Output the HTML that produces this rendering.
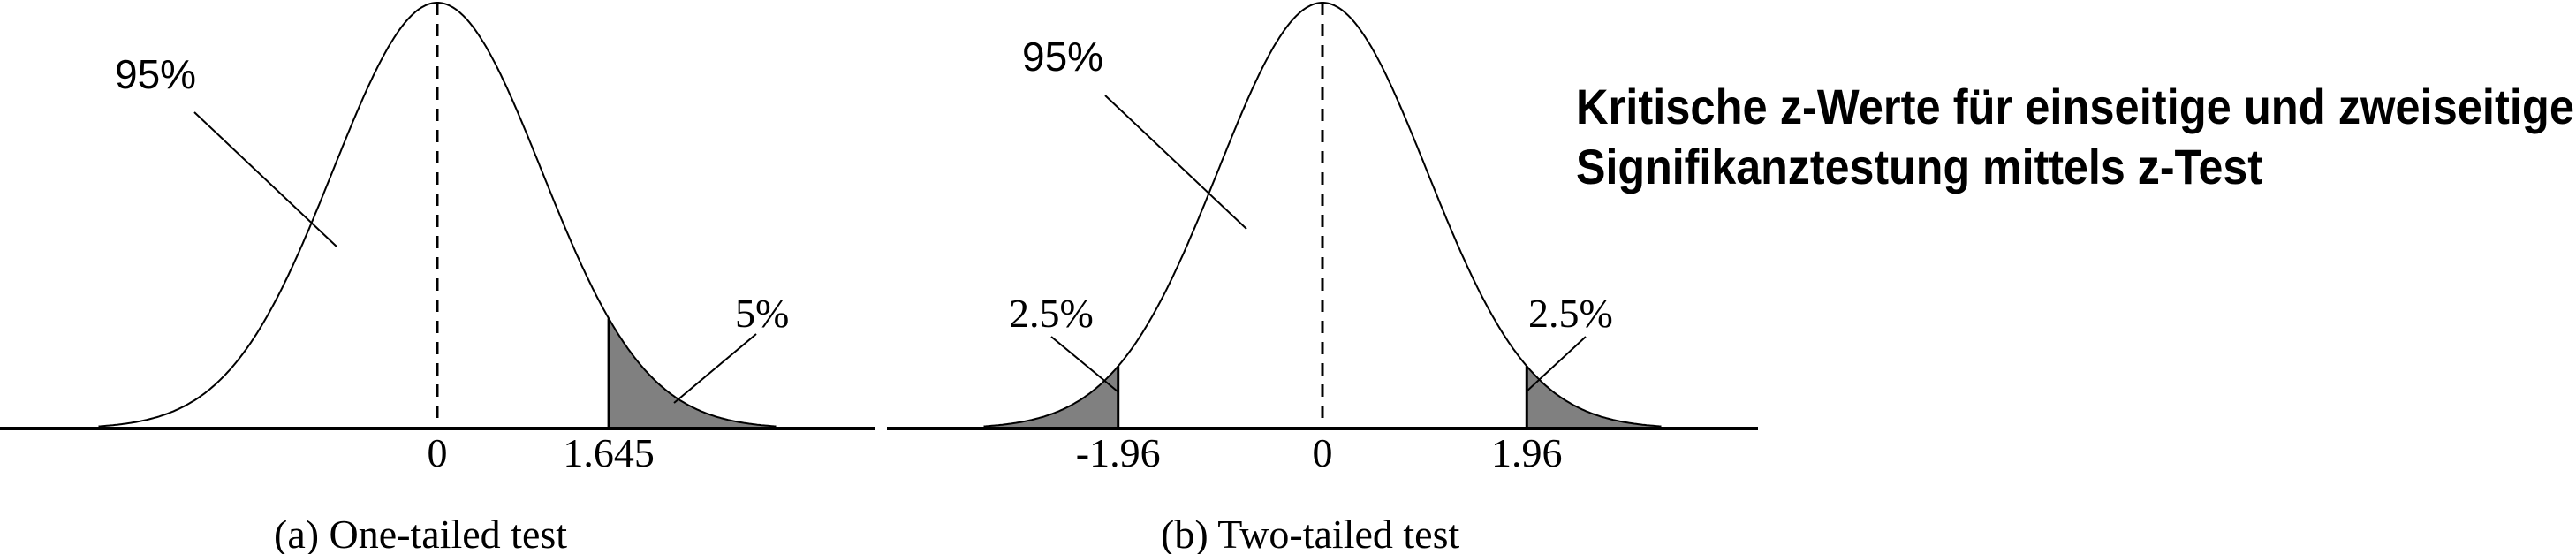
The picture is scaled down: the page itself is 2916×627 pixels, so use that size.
<!DOCTYPE html>
<html><head><meta charset="utf-8"><style>
html,body{margin:0;padding:0;background:#fff;width:2916px;height:627px;overflow:hidden}
svg{display:block}
.serif{font-family:"Liberation Serif",serif;fill:#000}
.sans{font-family:"Liberation Sans",sans-serif;fill:#000}
</style></head><body>
<svg id="chart" width="2916" height="627" viewBox="0 0 2916 627" xmlns="http://www.w3.org/2000/svg">
<g id="pa"></g>
<g id="pb"></g>
<text x="1784" y="140" font-family="'Liberation Sans',sans-serif" font-weight="bold" font-size="56" textLength="1130" lengthAdjust="spacingAndGlyphs">Kritische z-Werte für einseitige und zweiseitige</text>
<text x="1784" y="208" font-family="'Liberation Sans',sans-serif" font-weight="bold" font-size="56" textLength="777" lengthAdjust="spacingAndGlyphs">Signifikanztestung mittels z-Test</text>
</svg>
<script>
// data
const panelNames = ['one-tailed', 'two-tailed'];
const criticalA = [1.645];
const criticalB = [-1.96, 1.96];
const tickLabelsA = ['0', '1.645'];
const tickValuesA = [0, 1.645];
const tickLabelsB = ['-1.96', '0', '1.96'];
const tickValuesB = [-1.96, 0, 1.96];
const areaLabelsA = ['95%', '5%'];
const areaLabelsB = ['95%', '2.5%', '2.5%'];
const zRange = [-3.25, 3.25];

const NS = 'http://www.w3.org/2000/svg';
function mk(tag, attrs, parent) {
  const e = document.createElementNS(NS, tag);
  for (const k in attrs) e.setAttribute(k, attrs[k]);
  parent.appendChild(e);
  return e;
}
function pdf(z) { return Math.exp(-z * z / 2); }

function drawPanel(g, cx, sigma, axisL, axisR, crit, ticks, tickLabels) {
  const base = 485, peak = 3, H = base - peak;
  const X = z => cx + z * sigma;
  const Y = z => base - pdf(z) * H;
  crit.forEach(c => {
    const s = c > 0 ? c : zRange[0];
    const e = c > 0 ? zRange[1] : c;
    let d = 'M' + X(s) + ',' + base;
    for (let z = s; z <= e + 1e-9; z += 0.02) d += ' L' + X(z).toFixed(1) + ',' + Y(z).toFixed(1);
    d += ' L' + X(e).toFixed(1) + ',' + Y(e).toFixed(1) + ' L' + X(e) + ',' + base + ' Z';
    const p = mk('path', { d: d, fill: '#808080', stroke: 'none' }, g);
    
    
    const l = mk('line', { x1: X(c), y1: Y(c), x2: X(c), y2: base, stroke: '#000', 'stroke-width': 3 }, g);
    
    
  });
  let d = '';
  for (let z = zRange[0]; z <= zRange[1] + 1e-9; z += 0.02) d += (d ? ' L' : 'M') + X(z).toFixed(1) + ',' + Y(z).toFixed(1);
  const c = mk('path', { d: d, fill: 'none', stroke: '#000', 'stroke-width': 2 }, g);
  
  
  const m = mk('line', { x1: X(0), y1: peak, x2: X(0), y2: base, stroke: '#000', 'stroke-width': 3, 'stroke-dasharray': '14,10' }, g);
  
  
  const a = mk('line', { x1: axisL, y1: base, x2: axisR, y2: base, stroke: '#000', 'stroke-width': 4 }, g);
  
  
  ticks.forEach((t, i) => {
    const tx = mk('text', { x: X(t), y: 528, 'text-anchor': 'middle', 'font-size': 46, class: 'serif' }, g);
    tx.textContent = tickLabels[i];
    
    
  });
  return X;
}

const ga = document.getElementById('pa');
drawPanel(ga, 495, 118, 0, 990, criticalA, tickValuesA, tickLabelsA);
const gb = document.getElementById('pb');
drawPanel(gb, 1497, 118, 1004, 1990, criticalB, tickValuesB, tickLabelsB);

function label(g, txt, x, y, cls, size, name) {
  const t = mk('text', { x: x, y: y, 'font-size': size, class: cls }, g);
  t.textContent = txt;
  
  
}
function leader(g, x1, y1, x2, y2) {
  const l = mk('line', { x1: x1, y1: y1, x2: x2, y2: y2, stroke: '#000', 'stroke-width': 2 }, g);
  
  
}
label(ga, areaLabelsA[0], 130, 100, 'sans', 46, 'area-label-95');
leader(ga, 220, 127, 381, 279);
label(ga, areaLabelsA[1], 832, 370, 'serif', 46, 'area-label-5');
leader(ga, 856, 378, 763, 456);
label(ga, '(a) One-tailed test', 310, 620, 'serif', 46, 'caption-a');
label(gb, areaLabelsB[0], 1157, 80, 'sans', 46, 'area-label-95');
leader(gb, 1251, 108, 1411, 259);
label(gb, areaLabelsB[1], 1142, 370, 'serif', 46, 'area-label-left');
leader(gb, 1190, 381, 1265, 443);
label(gb, areaLabelsB[2], 1730, 370, 'serif', 46, 'area-label-right');
leader(gb, 1795, 381, 1728, 443);
label(gb, '(b) Two-tailed test', 1314, 620, 'serif', 46, 'caption-b');
</script>
</body></html>
